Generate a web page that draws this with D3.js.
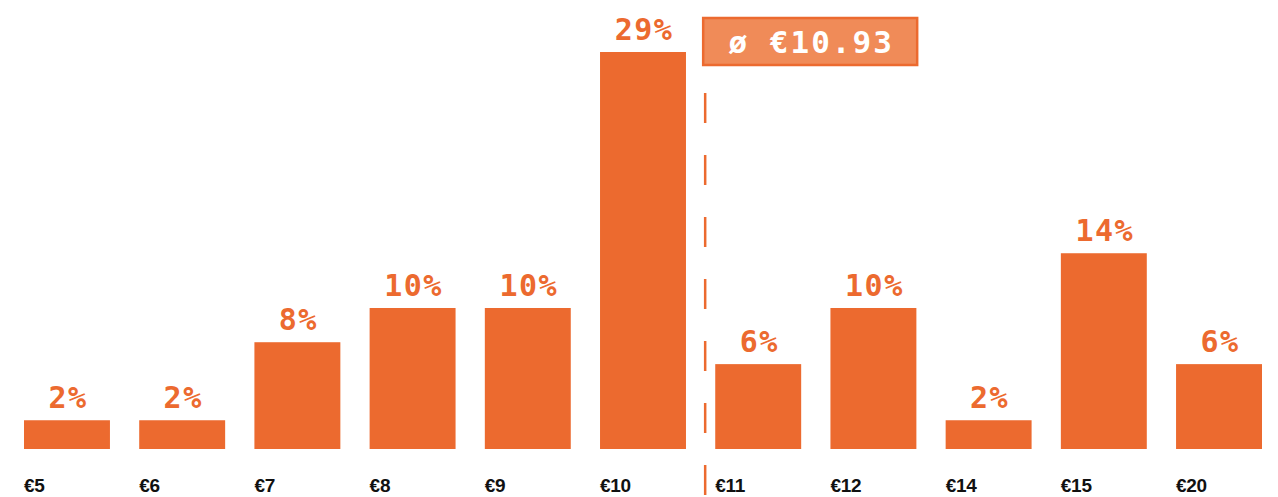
<!DOCTYPE html>
<html>
<head>
<meta charset="utf-8">
<script src="https://cdn.jsdelivr.net/npm/d3@7"></script>
<style>
  body { margin: 0; background: #fff; }
  svg { display: block; }
</style>
</head>
<body>
<div id="chart"></div>
<script>
// price buckets and share of answers (%)
var prices = ["€5", "€6", "€7", "€8", "€9", "€10", "€11", "€12", "€14", "€15", "€20"];
var shares = [2.1, 2.1, 7.8, 10.3, 10.3, 29, 6.2, 10.3, 2.1, 14.3, 6.2];
var shareLabels = ["2%", "2%", "8%", "10%", "10%", "29%", "6%", "10%", "2%", "14%", "6%"];
var average = 10.93;
var avgLabel = "ø €10.93";

var W = 1278, H = 497;
var orange = "#ec6a2f";
var mono = "'DejaVu Sans Mono', 'Liberation Mono', monospace";

var svg = d3.select("#chart").append("svg")
  .attr("width", W)
  .attr("height", H);

var x = d3.scaleBand()
  .domain(prices)
  .range([24, 1262])
  .paddingInner(0.254)
  .paddingOuter(0);

var y = d3.scaleLinear()
  .domain([0, 29])
  .range([449, 52]);

var data = prices.map(function (p, i) {
  return { price: p, share: shares[i], label: shareLabels[i] };
});

// bars
svg.selectAll("rect.bar")
  .data(data)
  .enter()
  .append("rect")
  .attr("class", "bar")
  .attr("x", function (d) { return x(d.price); })
  .attr("y", function (d) { return y(d.share); })
  .attr("width", x.bandwidth())
  .attr("height", function (d) { return y(0) - y(d.share); })
  .attr("fill", orange);

// value labels (letter-spacing adds trailing space, so nudge right by half)
svg.selectAll("text.val")
  .data(data)
  .enter()
  .append("text")
  .attr("class", "val")
  .attr("x", function (d) { return x(d.price) + x.bandwidth() / 2 + 1; })
  .attr("y", function (d) { return y(d.share) - 12; })
  .attr("text-anchor", "middle")
  .style("font-family", mono)
  .style("font-weight", "bold")
  .style("font-size", "30px")
  .style("letter-spacing", "1.5px")
  .attr("fill", orange)
  .text(function (d) { return d.label; });

// x labels (left aligned under each bar)
svg.selectAll("text.cat")
  .data(data)
  .enter()
  .append("text")
  .attr("class", "cat")
  .attr("x", function (d) { return x(d.price); })
  .attr("y", 492)
  .style("font-family", "'Liberation Sans', Arial, sans-serif")
  .style("font-weight", "bold")
  .style("font-size", "19px")
  .style("letter-spacing", "-0.3px")
  .attr("fill", "#111")
  .text(function (d) { return d.price; });

// average marker: position inside the €10 -> €11 step
var avgX = x("€10") + (average - 10) * x.step() - 2;

svg.append("line")
  .attr("x1", avgX)
  .attr("x2", avgX)
  .attr("y1", 93)
  .attr("y2", H)
  .attr("stroke", orange)
  .attr("stroke-width", 2.5)
  .attr("stroke-dasharray", "30,32");

var box = svg.append("g").attr("transform", "translate(" + (avgX - 2) + ",18)");
box.append("rect")
  .attr("x", 0)
  .attr("y", 0)
  .attr("width", 214)
  .attr("height", 47)
  .attr("fill", "#f08b58")
  .attr("stroke", orange)
  .attr("stroke-width", 2.5);
box.append("text")
  .attr("x", 108)
  .attr("y", 35)
  .attr("text-anchor", "middle")
  .style("font-family", mono)
  .style("font-weight", "bold")
  .style("font-size", "31px")
  .style("letter-spacing", "2px")
  .attr("fill", "#fff")
  .text(avgLabel);
</script>
</body>
</html>
